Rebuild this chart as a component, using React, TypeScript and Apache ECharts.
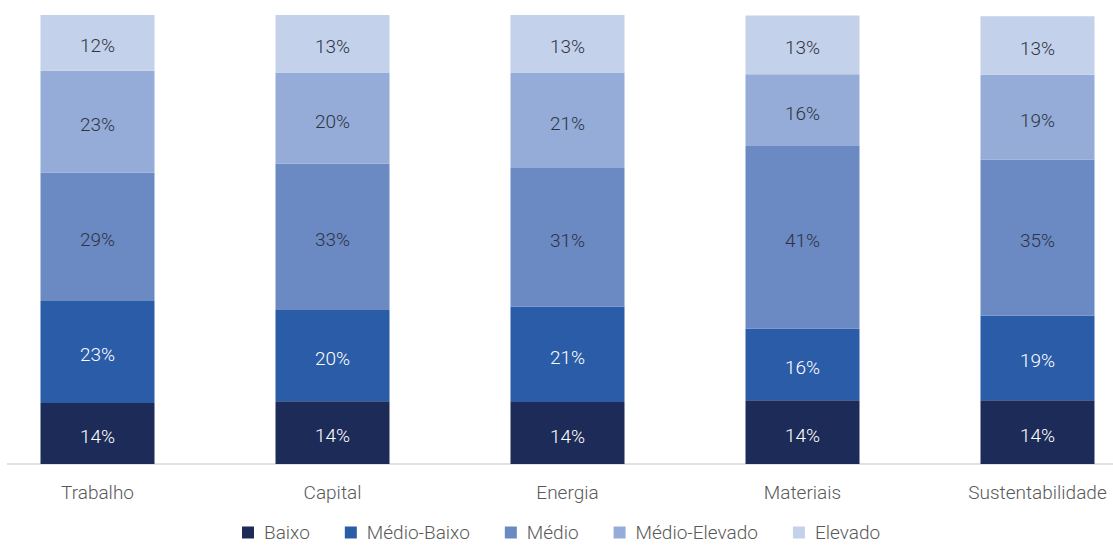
import React, { useEffect, useRef } from "react";
import * as echarts from "echarts";

const categories = ["Trabalho", "Capital", "Energia", "Materiais", "Sustentabilidade"];
const seriesNames = ["Baixo", "Médio-Baixo", "Médio", "Médio-Elevado", "Elevado"];
const baixo = [13.6, 14.0, 13.8, 14.2, 14.2];
const medioBaixo = [22.7, 20.3, 21.3, 16.0, 18.9];
const medio = [28.6, 32.6, 30.8, 40.6, 34.7];
const medioElevado = [22.7, 20.3, 21.3, 16.0, 18.9];
const elevado = [12.4, 12.8, 12.8, 13.1, 13.0];

const seriesData = [baixo, medioBaixo, medio, medioElevado, elevado];
const colors = ["#1d2b58", "#2b5ca8", "#6b89c3", "#94acd7", "#c4d1ea"];
const labelColors = ["#ffffff", "#ffffff", "#2e3344", "#2e3344", "#2e3344"];
const FONT = "Roboto, 'Noto Sans', sans-serif";
const OFFSET = 20;

export default function App() {
  const ref = useRef<HTMLDivElement>(null);
  useEffect(() => {
    if (!ref.current) return;
    const chart = echarts.init(ref.current, null, { renderer: "svg" });
    chart.setOption({
      animation: false,
      textStyle: { fontFamily: FONT },
      grid: { left: 0, right: 0, top: 15, bottom: 81, containLabel: false },
      legend: {
        data: seriesNames,
        left: 242 + OFFSET,
        top: 523,
        padding: 0,
        itemWidth: 12,
        itemHeight: 12,
        itemGap: 35,
        icon: "rect",
        textStyle: {
          fontSize: 19,
          lineHeight: 19,
          fontWeight: 300,
          color: "#595959",
          fontFamily: FONT,
          padding: [0, 0, 0, 5],
        },
      },
      xAxis: {
        type: "category",
        data: categories,
        axisLine: { show: false },
        axisTick: { show: false },
        axisLabel: { fontSize: 19, fontWeight: 300, color: "#595959", margin: 19, fontFamily: FONT },
      },
      yAxis: { type: "value", min: 0, max: 100, show: false, splitLine: { show: false } },
      graphic: [
        {
          type: "line",
          shape: { x1: 7 + OFFSET, y1: 464, x2: 1113 + OFFSET, y2: 464 },
          style: { stroke: "#d9d9d9", lineWidth: 1.5 },
          z: 0,
        },
      ],
      series: seriesNames.map((name, i) => ({
        name,
        type: "bar",
        stack: "total",
        barWidth: 114,
        data: seriesData[i],
        itemStyle: { color: colors[i] },
        label: {
          show: true,
          position: "inside",
          offset: [0, 3],
          fontSize: 19,
          fontWeight: 300,
          color: labelColors[i],
          fontFamily: FONT,
          formatter: (p: any) => Math.round(p.value) + "%",
        },
        z: 2,
      })),
    });
    return () => chart.dispose();
  }, []);
  return (
    <div style={{ position: "absolute", left: 0, top: 0, width: 1113, height: 545, overflow: "hidden", background: "#fff" }}>
      <div
        ref={ref}
        style={{ position: "absolute", left: -OFFSET, top: 0, width: 1175, height: 545 }}
      />
    </div>
  );
}
